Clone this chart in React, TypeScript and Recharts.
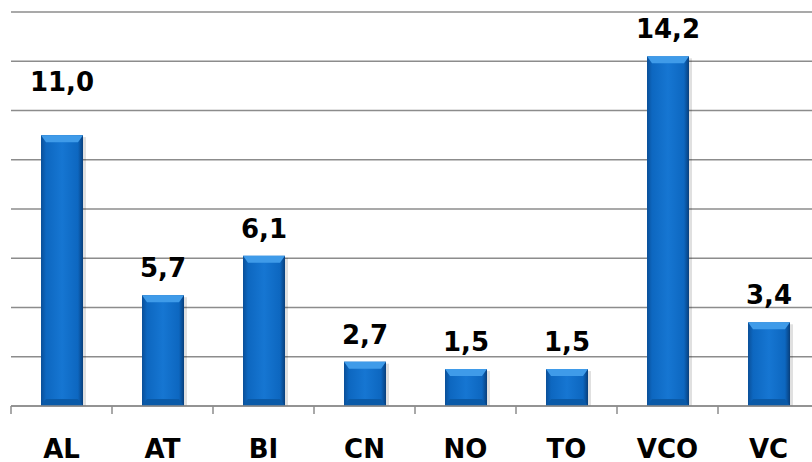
import React from "react";
import { Bar, BarChart, CartesianGrid, LabelList, XAxis, YAxis } from "recharts";

const categories = ["AL", "AT", "BI", "CN", "NO", "TO", "VCO", "VC"];
const barValues = [11.0, 4.5, 6.1, 1.8, 1.5, 1.5, 14.2, 3.4];
const valueLabels = ["11,0", "5,7", "6,1", "2,7", "1,5", "1,5", "14,2", "3,4"];
const yTicks = [0, 2, 4, 6, 8, 10, 12, 14, 16];

const data = categories.map((name, i) => ({ name, value: barValues[i], label: valueLabels[i] }));

const FONT = "'DejaVu Sans', Verdana, sans-serif";
const GRID = "#8c8c8c";
const BAND = 101;

function BarShape(props: any) {
  const { x, y, width, height, index } = props;
  if (!height || height <= 0) return null;
  const id = `barGrad${index}`;
  const b = Math.min(7, height / 3);
  return (
    <g>
      <defs>
        <linearGradient id={id} x1="0" y1="0" x2="1" y2="0">
          <stop offset="0%" stopColor="#0a4f98" />
          <stop offset="12%" stopColor="#0d67c0" />
          <stop offset="50%" stopColor="#1676d2" />
          <stop offset="88%" stopColor="#0d67c0" />
          <stop offset="100%" stopColor="#083f7c" />
        </linearGradient>
      </defs>
      <rect x={x + 3} y={y + 2} width={width} height={height - 2} fill="#000" opacity={0.12} />
      <rect x={x} y={y} width={width} height={height} fill={`url(#${id})`} />
      <polygon
        points={`${x},${y} ${x + width},${y} ${x + width - 5},${y + b} ${x + 5},${y + b}`}
        fill="#3f9be9"
      />
      <polygon
        points={`${x},${y + height} ${x + width},${y + height} ${x + width - 5},${y + height - b} ${x + 5},${y + height - b}`}
        fill="#0a5aa8"
      />
    </g>
  );
}

function XTick(props: any) {
  const { x, y, payload, index } = props;
  return (
    <g>
      <line x1={x - BAND / 2} x2={x - BAND / 2} y1={y} y2={y + 8} stroke={GRID} strokeWidth={1.5} />
      {index === categories.length - 1 && (
        <line x1={x + BAND / 2} x2={x + BAND / 2} y1={y} y2={y + 8} stroke={GRID} strokeWidth={1.5} />
      )}
      <text x={x} y={y + 52} textAnchor="middle" fontFamily={FONT} fontWeight="bold" fontSize={26} fill="#000">
        {payload.value}
      </text>
    </g>
  );
}

function ValueLabel(props: any) {
  const { x, y, width, index } = props;
  // the AL label sits higher above its bar in the original
  const lift = index === 0 ? 44 : 18;
  return (
    <text
      x={x + width / 2}
      y={y - lift}
      textAnchor="middle"
      fontFamily={FONT}
      fontWeight="bold"
      fontSize={26}
      fill="#000"
    >
      {valueLabels[index]}
    </text>
  );
}

export default function App() {
  return (
    <div style={{ position: "absolute", left: 0, top: 0, width: 812, height: 462, overflow: "hidden", background: "#fff" }}>
      <BarChart width={820} height={462} data={data} margin={{ top: 12, right: 1, bottom: 0, left: 11 }}>
        <CartesianGrid vertical={false} stroke={GRID} strokeWidth={1.5} />
        <XAxis
          dataKey="name"
          height={56}
          stroke={GRID}
          strokeWidth={1.5}
          tickLine={false}
          tickSize={0}
          tickMargin={0}
          tick={<XTick />}
          interval={0}
        />
        <YAxis hide domain={[0, 16]} ticks={yTicks} />
        <Bar dataKey="value" barSize={42} shape={<BarShape />} isAnimationActive={false}>
          <LabelList dataKey="label" content={<ValueLabel />} />
        </Bar>
      </BarChart>
    </div>
  );
}
